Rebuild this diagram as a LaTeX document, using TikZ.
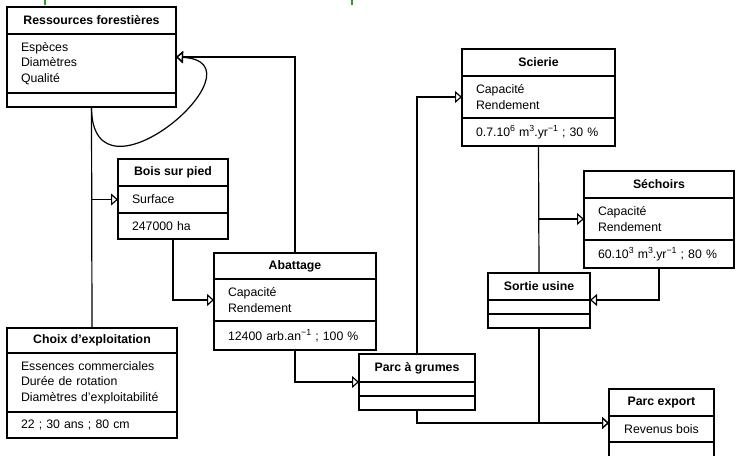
\documentclass[tikz,border=0pt]{standalone}
\usepackage{fontspec}
\setmainfont{Liberation Sans}
\usetikzlibrary{arrows.meta,calc}
\definecolor{mk}{RGB}{40,160,40}
\newcommand{\msup}[1]{\raisebox{0.42em}{\fontsize{8.8}{10}\selectfont #1}}
\begin{document}
\begin{tikzpicture}[x=1pt,y=-1pt,
  font=\fontsize{12.3}{15.5}\selectfont, line width=1.2pt,
  comp/.style={draw, rectangle, anchor=north west, inner sep=0pt, outer sep=0pt},
  ttl/.style={comp, font=\fontsize{12.3}{15.5}\selectfont\bfseries},
  lst/.style={comp, align=left, inner xsep=14pt, inner ysep=0pt},
  inh/.style={-{Triangle[open,length=7pt,width=12pt]}},
  marker/.style={draw=mk, line width=2.5pt}]
\useasboundingbox (0,0) rectangle (736,455);
\clip (0,0) rectangle (736,455);
\draw[marker] (45,0) -- (45,5);
\draw[marker] (352,0) -- (352,5);

% Ressources forestieres
\node[ttl, minimum width=169pt, minimum height=27pt] (res-t) at (7,7) {Ressources forestières};
\node[lst, text width=141pt, minimum height=59pt] (res-a) at (res-t.south west) {Espèces\\Diamètres\\Qualité};
\node[comp, minimum width=169pt, minimum height=14pt] (res-m) at (res-a.south west) {};

% Bois sur pied
\node[ttl, minimum width=110pt, minimum height=27pt] (bois-t) at (118,159) {Bois sur pied};
\node[lst, text width=82pt, minimum height=27pt] (bois-a) at (bois-t.south west) {Surface};
\node[lst, text width=82pt, minimum height=26pt] (bois-m) at (bois-a.south west) {247000 ha};

% Abattage
\node[ttl, minimum width=162pt, minimum height=26pt] (abat-t) at (214,253) {Abattage};
\node[lst, text width=134pt, minimum height=42pt] (abat-a) at (abat-t.south west) {Capacité\\Rendement};
\node[lst, text width=134pt, minimum height=29pt] (abat-m) at (abat-a.south west) {12400 arb.an\msup{−1} ; 100 \%};

% Choix d'exploitation
\node[ttl, minimum width=170pt, minimum height=25pt] (choix-t) at (7,328) {Choix d’exploitation};
\node[lst, text width=142pt, minimum height=59pt] (choix-a) at (choix-t.south west) {Essences commerciales\\Durée de rotation\\Diamètres d’exploitabilité};
\node[lst, text width=142pt, minimum height=26pt] (choix-m) at (choix-a.south west) {22 ; 30 ans ; 80 cm};

% Parc a grumes
\node[ttl, minimum width=116pt, minimum height=28pt] (parc-t) at (359,354) {Parc à grumes};
\node[comp, minimum width=116pt, minimum height=14pt] (parc-a) at (parc-t.south west) {};
\node[comp, minimum width=116pt, minimum height=14pt] (parc-m) at (parc-a.south west) {};

% Scierie
\node[ttl, minimum width=153pt, minimum height=27pt] (sci-t) at (462,49) {Scierie};
\node[lst, text width=125pt, minimum height=42pt] (sci-a) at (sci-t.south west) {Capacité\\Rendement};
\node[lst, text width=125pt, minimum height=28pt] (sci-m) at (sci-a.south west) {0.7.10\msup{6} m\msup{3}.yr\msup{−1} ; 30 \%};

% Sechoirs
\node[ttl, minimum width=150pt, minimum height=27pt] (sech-t) at (584,171) {Séchoirs};
\node[lst, text width=122pt, minimum height=42pt] (sech-a) at (sech-t.south west) {Capacité\\Rendement};
\node[lst, text width=122pt, minimum height=28pt] (sech-m) at (sech-a.south west) {60.10\msup{3} m\msup{3}.yr\msup{−1} ; 80 \%};

% Sortie usine
\node[ttl, minimum width=102pt, minimum height=27pt] (sort-t) at (488,273) {Sortie usine};
\node[comp, minimum width=102pt, minimum height=14pt] (sort-a) at (sort-t.south west) {};
\node[comp, minimum width=102pt, minimum height=14pt] (sort-m) at (sort-a.south west) {};

% Parc export
\node[ttl, minimum width=105pt, minimum height=27pt] (exp-t) at (609,389) {Parc export};
\node[comp, minimum width=105pt, minimum height=26pt] (exp-a) at (exp-t.south west) {Revenus bois};
\node[comp, minimum width=105pt, minimum height=20pt] (exp-m) at (exp-a.south west) {};

% connectors
\coordinate (resin) at ([yshift=-23pt]res-a.north east);
\draw[inh] (abat-t.north) |- (resin);
\draw[inh] (res-m.south) .. controls +(0,110) and +(94,5) .. (resin);
\draw (res-m.south) -- (choix-t.north);
\draw[inh] (res-m.south |- bois-a.west) -- (bois-a.west);
\draw[inh] (bois-m.south) |- (abat-a.west);
\draw[inh] (abat-m.south) |- (parc-t.south west);
\draw[inh] (parc-t.north) |- (sci-a.west);
\draw (sci-m.south) -- (sort-t.north);
\draw[inh] (sci-m.south |- sech-a.west) -- (sech-a.west);
\draw[inh] (sech-m.south) |- (sort-t.south east);
\coordinate (expin) at ([yshift=6pt]exp-a.west);
\draw[inh] (sort-m.south) |- (expin);
\draw[inh] (parc-m.south) |- (expin);
\end{tikzpicture}
\end{document}
